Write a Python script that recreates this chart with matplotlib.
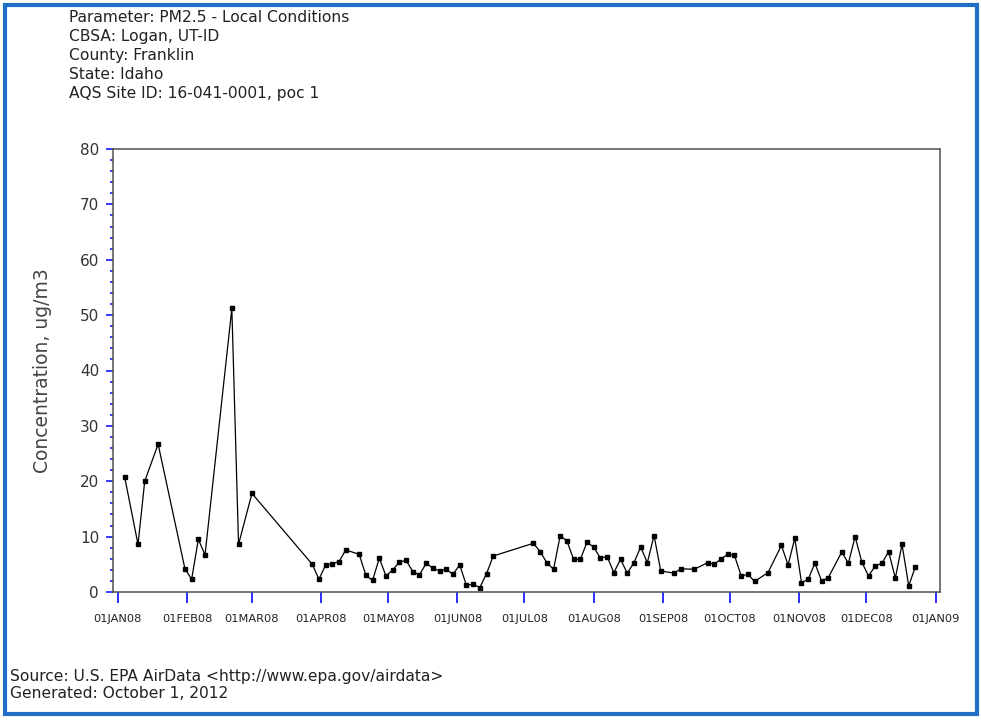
import datetime as dt
import matplotlib
matplotlib.use("Agg")
import matplotlib.pyplot as plt
from matplotlib.patches import Rectangle
from matplotlib.ticker import MultipleLocator

# --- Datos (PM2.5, Franklin County, Idaho, 2008) ---
fechas = [
    "2008-01-04", "2008-01-10", "2008-01-13", "2008-01-19", "2008-01-31",
    "2008-02-03", "2008-02-06", "2008-02-09", "2008-02-21", "2008-02-24",
    "2008-03-01", "2008-03-28", "2008-03-31", "2008-04-03", "2008-04-06",
    "2008-04-09", "2008-04-12", "2008-04-18", "2008-04-21", "2008-04-24",
    "2008-04-27", "2008-04-30", "2008-05-03", "2008-05-06", "2008-05-09",
    "2008-05-12", "2008-05-15", "2008-05-18", "2008-05-21", "2008-05-24",
    "2008-05-27", "2008-05-30", "2008-06-02", "2008-06-05", "2008-06-08",
    "2008-06-11", "2008-06-14", "2008-06-17", "2008-07-05", "2008-07-08",
    "2008-07-11", "2008-07-14", "2008-07-17", "2008-07-20", "2008-07-23",
    "2008-07-26", "2008-07-29", "2008-08-01", "2008-08-04", "2008-08-07",
    "2008-08-10", "2008-08-13", "2008-08-16", "2008-08-19", "2008-08-22",
    "2008-08-25", "2008-08-28", "2008-08-31", "2008-09-06", "2008-09-09",
    "2008-09-15", "2008-09-21", "2008-09-24", "2008-09-27", "2008-09-30",
    "2008-10-03", "2008-10-06", "2008-10-09", "2008-10-12", "2008-10-18",
    "2008-10-24", "2008-10-27", "2008-10-30", "2008-11-02", "2008-11-05",
    "2008-11-08", "2008-11-11", "2008-11-14", "2008-11-20", "2008-11-23",
    "2008-11-26", "2008-11-29", "2008-12-02", "2008-12-05", "2008-12-08",
    "2008-12-11", "2008-12-14", "2008-12-17", "2008-12-20", "2008-12-23",
]
concentracion = [
    20.8, 8.6, 20.0, 26.7, 4.2,
    2.3, 9.5, 6.7, 51.2, 8.6,
    17.8, 5.0, 2.3, 4.9, 5.1,
    5.5, 7.6, 6.8, 3.0, 2.1,
    6.1, 2.9, 4.0, 5.4, 5.7,
    3.7, 3.1, 5.2, 4.3, 3.8,
    4.1, 3.2, 4.9, 1.2, 1.4,
    0.8, 3.3, 6.5, 8.8, 7.3,
    5.3, 4.1, 10.2, 9.2, 5.9,
    5.9, 9.0, 8.1, 6.1, 6.4,
    3.5, 5.9, 3.4, 5.3, 8.1,
    5.3, 10.2, 3.8, 3.4, 4.2,
    4.1, 5.3, 5.0, 6.0, 6.8,
    6.6, 2.9, 3.2, 1.9, 3.5,
    8.4, 4.9, 9.7, 1.7, 2.3,
    5.2, 2.0, 2.6, 7.2, 5.2,
    10.0, 5.4, 2.9, 4.7, 5.2,
    7.3, 2.5, 8.6, 1.1, 4.6,
]

meses = ["2008-%02d-01" % m for m in range(1, 13)] + ["2009-01-01"]
etiquetas_meses = ["01JAN08", "01FEB08", "01MAR08", "01APR08", "01MAY08", "01JUN08",
                   "01JUL08", "01AUG08", "01SEP08", "01OCT08", "01NOV08", "01DEC08",
                   "01JAN09"]

cabecera = [
    "Parameter: PM2.5 - Local Conditions",
    "CBSA: Logan, UT-ID",
    "County: Franklin",
    "State: Idaho",
    "AQS Site ID: 16-041-0001, poc 1",
]
pie = [
    "Source: U.S. EPA AirData <http://www.epa.gov/airdata>",
    "Generated: October 1, 2012",
]

x = [dt.datetime.strptime(f, "%Y-%m-%d") for f in fechas]
ticks_x = [dt.datetime.strptime(f, "%Y-%m-%d") for f in meses]

# --- Figura ---
fig = plt.figure(figsize=(9.81, 7.21), dpi=100)
ax = fig.add_axes([113 / 981, 1 - 592 / 721, 827 / 981, 443 / 721])

ax.plot(x, concentracion, color="black", linewidth=0.9,
        marker="s", markersize=3, markerfacecolor="black", markeredgecolor="black")

ax.set_ylim(0, 80)
ax.set_xlim(ticks_x[0] - dt.timedelta(days=2.2), ticks_x[-1] + dt.timedelta(days=2.0))
ax.yaxis.set_major_locator(MultipleLocator(10))
ax.yaxis.set_minor_locator(MultipleLocator(2))
ax.set_xticks(ticks_x)
ax.set_xticklabels(etiquetas_meses)

azul = "#1a1aff"
ax.tick_params(axis="y", which="major", direction="out", length=5, width=1.2,
               color=azul, labelsize=11, labelcolor="#333333", pad=5)
ax.tick_params(axis="y", which="minor", direction="out", length=2.5, width=1.2, color=azul)
ax.tick_params(axis="x", which="major", direction="out", length=8, width=1.3,
               color=azul, labelsize=8.2, labelcolor="#222222", pad=8)

for s in ax.spines.values():
    s.set_color("#505050")
    s.set_linewidth(1.1)

ax.set_ylabel("Concentration, ug/m3", fontsize=13.5, color="#444444", labelpad=20)

# --- Textos ---
for i, linea in enumerate(cabecera):
    fig.text(69 / 981, 1 - (18 + i * 18.8) / 721, linea, fontsize=11.2,
             color="#222222", va="center", ha="left")
for i, linea in enumerate(pie):
    fig.text(10 / 981, 1 - (676 + i * 17) / 721, linea, fontsize=11.2,
             color="#222222", va="center", ha="left")

# --- Marco azul ---
fig.patches.append(Rectangle((5 / 981, 1 - 714 / 721), 972 / 981, 709 / 721,
                             transform=fig.transFigure, fill=False,
                             edgecolor="#1f6fc6", linewidth=3))

fig.savefig("out.png", dpi=100)
